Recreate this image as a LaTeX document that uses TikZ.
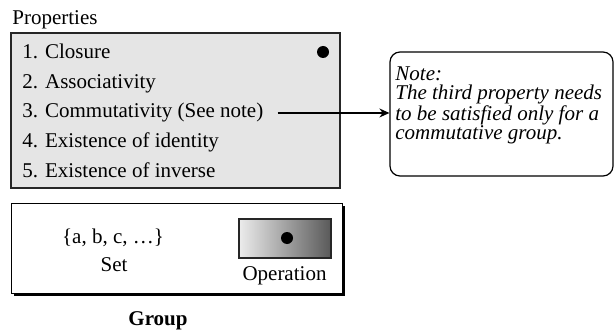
\documentclass[tikz,border=0pt]{standalone}
\usepackage{fontspec}
\setmainfont{Liberation Serif}
\usetikzlibrary{arrows.meta,shadows}

\tikzset{
  txt/.style={inner sep=0pt,font=\fontsize{10.5}{12.6}\selectfont},
  itemtext/.style={txt,anchor=base west},
  bigdot/.style={circle,fill=black,inner sep=0pt,minimum size=6pt},
  propbox/.style={draw=black!85,line width=0.6pt,fill=gray!20,inner sep=0pt,
    general shadow={fill=black!80,shadow xshift=0.5pt,shadow yshift=-0.5pt}},
  notebox/.style={draw,line width=0.6pt,rounded corners=5pt,inner sep=0pt},
  groupbox/.style={draw,line width=0.5pt,fill=white,inner sep=0pt,
    general shadow={fill=black,shadow xshift=1.5pt,shadow yshift=-1.5pt}},
  opbox/.style={draw=black!85,line width=0.6pt,left color=gray!15,right color=black!65,inner sep=0pt},
  conn/.style={line width=0.6pt,-{Stealth[length=5pt,width=4.5pt]}}
}

\begin{document}
\begin{tikzpicture}[x=0.5pt,y=-0.5pt]
\useasboundingbox (0,0) rectangle (614,331);
% properties
\node[itemtext] (proplbl) at (12,25) {Properties};
\node[propbox,minimum width=164.5pt,minimum height=77.5pt] (plist) at (175.5,110.5) {};
\foreach \t [count=\i] in {1. Closure,2. Associativity,3. Commutativity (See note),4. Existence of identity,5. Existence of inverse}
  \node[itemtext] (item\i) at (22,29.5+29.5*\i) {\t};
\node[bigdot] (closure) at (323,52) {};
% note
\node[notebox,minimum width=111.5pt,minimum height=62pt] (note) at (501.5,114) {};
\node[txt,anchor=north west,align=left,font=\fontsize{10.5}{9.35}\itshape] (notetxt) at (395,66.5)
  {Note:\\The third property needs\\to be satisfied only for a\\commutative group.};
\draw[conn,shorten <=7pt] (item3.east) -- (item3.east -| note.west);
% group
\node[groupbox,minimum width=165.5pt,minimum height=45pt] (group) at (176.5,248) {};
\node[txt,anchor=base] (elems) at (113,243) {\{a, b, c, …\}};
\node[txt,anchor=base] (setlbl) at (114,271) {Set};
\node[opbox,minimum width=46pt,minimum height=19.5pt] (op) at (285,238.5) {};
\node[bigdot] (opdot) at (287,238) {};
\node[txt,anchor=base] (oplbl) at (284.5,280) {Operation};
\node[txt,anchor=base,font=\fontsize{10.5}{12.6}\bfseries] (grouplbl) at (158,325) {Group};
\end{tikzpicture}
\end{document}
